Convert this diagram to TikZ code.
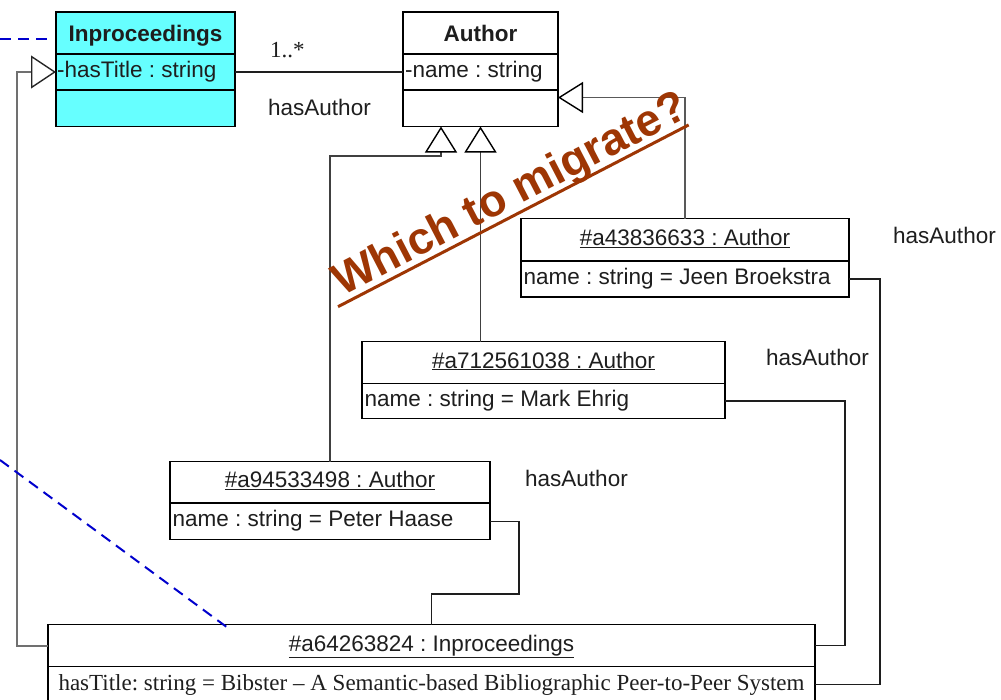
\documentclass[tikz,border=0pt]{standalone}
\usepackage{fontspec}
\usepackage{graphicx}
\setmainfont{Liberation Sans}
\newfontfamily\serifface{Liberation Serif}
\usetikzlibrary{arrows.meta,calc}
\frenchspacing

\definecolor{classcyan}{RGB}{102,255,255}
\definecolor{notebrown}{RGB}{158,54,4}
\definecolor{linkblue}{RGB}{0,0,205}
\definecolor{gengray}{RGB}{112,112,112}
\definecolor{inkgray}{RGB}{30,30,30}

\newcommand\umlfont{\fontsize{22.5}{27}\selectfont}
\newcommand\umlserif{\serifface\fontsize{23}{27}\selectfont}
\newcommand\notefont{\fontsize{45}{54}\selectfont\bfseries}

\begin{document}
\begin{tikzpicture}[x=1pt,y=-1pt,
  comp/.style={draw=black, line width=1.5pt, inner sep=0pt, outer sep=0pt,
    font=\umlfont, text=inkgray, text height=16pt, text depth=5pt, anchor=north west},
  below comp/.style={comp, anchor=north},
  ctitle/.style={comp, text depth=0pt, font=\umlfont\bfseries},
  cyanbox/.style={fill=classcyan},
  attrtext/.style={font=\umlfont, text=inkgray, inner sep=0pt, text height=16pt, text depth=5pt, anchor=west},
  lbl/.style={font=\umlfont, text=inkgray, inner sep=0pt, anchor=base west},
  link/.style={draw=inkgray, line width=1.5pt},
  gen/.style={draw=black!75, line width=1.5pt,
    -{Triangle[open, length=26pt, width=32pt, line width=1.4pt, color=black]}},
  genside/.style={draw=black!65, line width=1.5pt,
    -{Triangle[open, length=25pt, width=31pt, line width=1.4pt, color=black]}},
  instgen/.style={draw=gengray, line width=2pt,
    -{Triangle[open, length=25pt, width=33pt, line width=1.4pt, color=black!85]}},
  bluedash/.style={draw=linkblue, line width=2pt, dash pattern=on 11pt off 7pt}
]
\path[use as bounding box] (0,0) rectangle (1001,699);
\clip (0,0) rectangle (1001,699);
\fill[white] (0,0) rectangle (1001,699);

% ---- class Inproceedings ----
\node[ctitle, cyanbox, minimum width=179pt, minimum height=42pt] (ipcT) at (56,12) {Inproceedings};
\node[below comp, cyanbox, minimum width=179pt, minimum height=36pt] (ipcA) at (ipcT.south) {};
\node[below comp, cyanbox, minimum width=179pt, minimum height=36.5pt] (ipcO) at (ipcA.south) {};
\node[attrtext] (ipcAt) at ($(ipcA.west)+(1,0)$) {-hasTitle : string};

% ---- class Author ----
\node[ctitle, minimum width=155pt, minimum height=42pt] (authT) at (403,12) {Author};
\node[below comp, minimum width=155pt, minimum height=36pt] (authA) at (authT.south) {};
\node[below comp, minimum width=155pt, minimum height=36.5pt] (authO) at (authA.south) {};
\node[attrtext] (authAt) at ($(authA.west)+(2,0)$) {-name : string};

% ---- instances ----
\node[comp, minimum width=328pt, minimum height=42.5pt] (jeenT) at (521,218.5) {\underline{\#a43836633 : Author}};
\node[below comp, minimum width=328pt, minimum height=36pt] (jeenA) at (jeenT.south) {};
\node[attrtext] (jeenAt) at ($(jeenA.west)+(2.5,0)$) {name : string = Jeen Broekstra};

\node[comp, minimum width=363pt, minimum height=42pt] (markT) at (362,341.5) {\underline{\#a712561038 : Author}};
\node[below comp, minimum width=363pt, minimum height=35pt] (markA) at (markT.south) {};
\node[attrtext] (markAt) at ($(markA.west)+(2.5,0)$) {name : string = Mark Ehrig};

\node[comp, minimum width=320pt, minimum height=41.5pt] (peterT) at (170,461.5) {\underline{\#a94533498 : Author}};
\node[below comp, minimum width=320pt, minimum height=36.5pt] (peterA) at (peterT.south) {};
\node[attrtext] (peterAt) at ($(peterA.west)+(2.5,0)$) {name : string = Peter Haase};

\node[comp, minimum width=767pt, minimum height=42pt] (instT) at (48,624.5) {\underline{\#a64263824 : Inproceedings}};
\node[below comp, minimum width=767pt, minimum height=36pt, font=\umlserif] (instA) at (instT.south)
  {\resizebox{746pt}{\height}{hasTitle: string = Bibster – A Semantic-based Bibliographic Peer-to-Peer System}};

% ---- association between the classes ----
\draw[link] (ipcA.east) -- (authA.west);
\node[lbl, font=\umlserif] (mult) at (270,57) {1..*};
\node[lbl] (roleA) at (268,115) {hasAuthor};

% ---- instance-of arrows ----
\coordinate (tipL) at ($(authO.south)+(-39.5,0)$);
\coordinate (tipM) at (authO.south);
\coordinate (tipR) at ($(authO.north east)+(0,7.5)$);
\draw[gen] (peterT.north) |- ($(tipL)+(0,29.5)$) -- (tipL);
\draw[gen] (tipM |- markT.north) -- (tipM);
\draw[genside] (jeenT.north) |- (tipR);
\draw[instgen] (instT.west) -| ($(ipcA.west)+(-39,0)$) -- (ipcA.west);

% ---- hasAuthor links ----
\draw[link] (peterA.east) -- ++(29,0) |- ($(instT.north)+(0,-30.5)$) -- (instT.north);
\draw[link] (markA.east) -| ($(instT.east)+(30,0)$) -- (instT.east);
\draw[link] (jeenA.east) -| ($(instA.east)+(65,0)$) -- (instA.east);
\node[lbl] (roleJ) at (893,243) {hasAuthor};
\node[lbl] (roleM) at (766,365) {hasAuthor};
\node[lbl] (roleP) at (525,486) {hasAuthor};

% ---- dashed pointers ----
\coordinate (dashTop) at (0,38.5);
\coordinate (dashLow) at (0,460);
\draw[bluedash] (dashTop) -- ($(ipcT.south west)+(-6,-15.5)$);
\draw[bluedash] (dashLow) -- ($(instT.north west)+(180,3.5)$);

% ---- annotation ----
\begin{scope}[shift={(338,306.7)}, rotate=27.4]
  \draw[notebrown, line width=3pt] (0,0) -- (395,0);
  \node[font=\notefont, text=notebrown, anchor=base west, inner sep=0pt, rotate=27.4] (question) at (8,-7) {Which to migrate?};
\end{scope}
\end{tikzpicture}
\end{document}
